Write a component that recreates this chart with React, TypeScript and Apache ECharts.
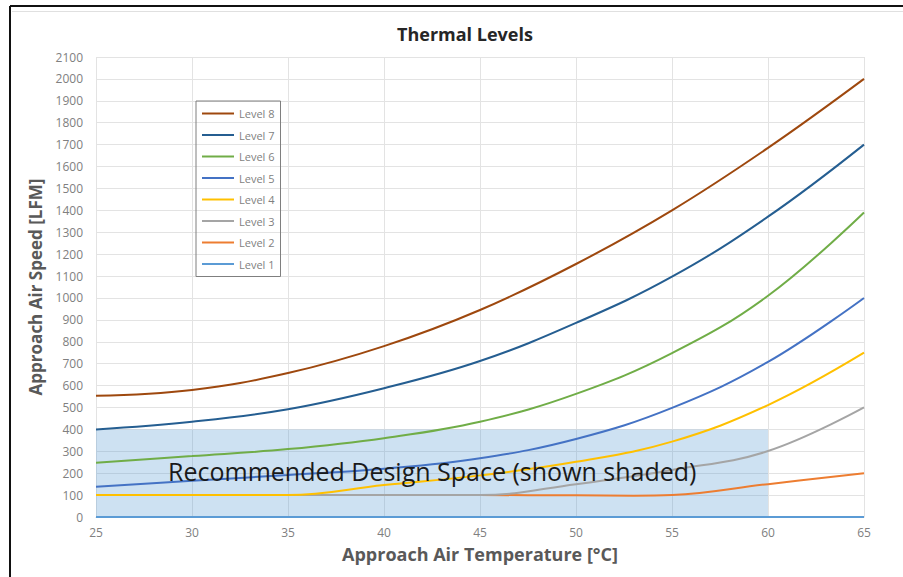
import React, { useEffect, useRef } from "react";
import * as echarts from "echarts";

const temps = [25, 30, 35, 40, 45, 50, 55, 60, 65];
const level8 = [553, 580, 657, 780, 945, 1155, 1400, 1685, 2000];
const level7 = [400, 435, 492, 588, 712, 886, 1097, 1371, 1700];
const level6 = [248, 278, 310, 360, 435, 562, 748, 1010, 1390];
const level5 = [138, 165, 192, 220, 268, 356, 498, 708, 1000];
const level4 = [100, 100, 100, 146, 190, 252, 344, 511, 750];
const level3 = [100, 100, 100, 100, 100, 150, 215, 301, 500];
const level2Temps = [25, 30, 35, 40, 45, 50, 53, 55, 60, 65];
const level2 = [100, 100, 100, 100, 100, 99, 97, 100, 150, 200];
const level1 = [0, 0, 0, 0, 0, 0, 0, 0, 0];

const seriesNames = ["Level 8", "Level 7", "Level 6", "Level 5", "Level 4", "Level 3", "Level 2", "Level 1"];
const colors: Record<string, string> = {
  "Level 8": "#9E480E",
  "Level 7": "#255E91",
  "Level 6": "#70AD47",
  "Level 5": "#4472C4",
  "Level 4": "#FFC000",
  "Level 3": "#A5A5A5",
  "Level 2": "#ED7D31",
  "Level 1": "#5B9BD5",
};

const designSpace = { xFrom: 25, xTo: 60, yFrom: 0, yTo: 400 };
const designLabel = "Recommended Design Space (shown shaded)";

const pair = (xs: number[], ys: number[]) => xs.map((x, i) => [x, ys[i]]);

export default function App() {
  const ref = useRef<HTMLDivElement>(null);
  useEffect(() => {
    if (!ref.current) return;
    const chart = echarts.init(ref.current, null, { renderer: "svg" });
    const font = "'Open Sans', 'Noto Sans', sans-serif";
    const dataMap: Record<string, number[][]> = {
      "Level 8": pair(temps, level8),
      "Level 7": pair(temps, level7),
      "Level 6": pair(temps, level6),
      "Level 5": pair(temps, level5),
      "Level 4": pair(temps, level4),
      "Level 3": pair(temps, level3),
      "Level 2": pair(level2Temps, level2),
      "Level 1": pair(temps, level1),
    };
    const drawOrder = ["Level 1", "Level 2", "Level 3", "Level 4", "Level 5", "Level 6", "Level 7", "Level 8"];
    const series: any[] = drawOrder.map((name) => ({
      name,
      type: "line",
      data: dataMap[name],
      smooth: 0.4,
      symbol: "none",
      lineStyle: { color: colors[name], width: 2 },
      itemStyle: { color: colors[name] },
      z: 3,
    }));
    series[0].markArea = {
      silent: true,
      itemStyle: { color: "rgba(91,155,213,0.3)" },
      data: [[{ coord: [designSpace.xFrom, designSpace.yFrom] }, { coord: [designSpace.xTo, designSpace.yTo] }]],
    };
    chart.setOption({
      animation: false,
      backgroundColor: "#ffffff",
      textStyle: { fontFamily: font },
      title: {
        text: "Thermal Levels",
        left: 392,
        top: 20,
        textStyle: { fontSize: 18, fontWeight: "bold", color: "#262626", fontFamily: font },
      },
      legend: {
        data: seriesNames,
        orient: "vertical",
        left: 196,
        top: 101,
        borderColor: "#7f7f7f",
        borderWidth: 1,
        padding: [7, 6, 7, 6],
        itemGap: 10.5,
        itemWidth: 32,
        itemHeight: 2,
        icon: "rect",
        textStyle: { fontSize: 11, color: "#7f7f7f", fontFamily: font },
      },
      grid: { left: 96, right: 39, top: 57, bottom: 60, containLabel: false },
      xAxis: {
        type: "value",
        min: 25,
        max: 65,
        interval: 5,
        name: "Approach Air Temperature [°C]",
        nameLocation: "middle",
        nameGap: 28,
        nameTextStyle: { fontSize: 18, fontWeight: "bold", color: "#595959", fontFamily: font },
        axisLine: { show: true, lineStyle: { color: "#d9d9d9" } },
        axisTick: { show: false },
        axisLabel: { fontSize: 12, color: "#808080", margin: 9, fontFamily: font },
        splitLine: { show: true, lineStyle: { color: "#e3e3e3" } },
      },
      yAxis: {
        type: "value",
        min: 0,
        max: 2100,
        interval: 100,
        name: "Approach Air Speed [LFM]",
        nameLocation: "middle",
        nameGap: 52,
        nameTextStyle: { fontSize: 17, fontWeight: "bold", color: "#595959", fontFamily: font },
        axisLine: { show: false },
        axisTick: { show: false },
        axisLabel: { fontSize: 12, color: "#808080", margin: 13, fontFamily: font, formatter: (v: number) => String(v) },
        splitLine: { show: true, lineStyle: { color: "#e3e3e3" } },
      },
      graphic: [
        { type: "line", shape: { x1: 10, y1: 6, x2: 903, y2: 6 }, style: { stroke: "#111", lineWidth: 2 } },
        { type: "line", shape: { x1: 10, y1: 6, x2: 10, y2: 577 }, style: { stroke: "#111", lineWidth: 2 } },
        { type: "line", shape: { x1: 12, y1: 11.5, x2: 903, y2: 11.5 }, style: { stroke: "#e0e0e0", lineWidth: 1 } },
        {
          type: "text",
          left: 168,
          top: 458,
          z: 10,
          style: { text: designLabel, fontSize: 25, fill: "#1a1a1a", fontFamily: font },
        },
      ],
      series,
    });
    return () => chart.dispose();
  }, []);
  return <div ref={ref} style={{ position: "fixed", left: 0, top: 0, width: 903, height: 577 }} />;
}
